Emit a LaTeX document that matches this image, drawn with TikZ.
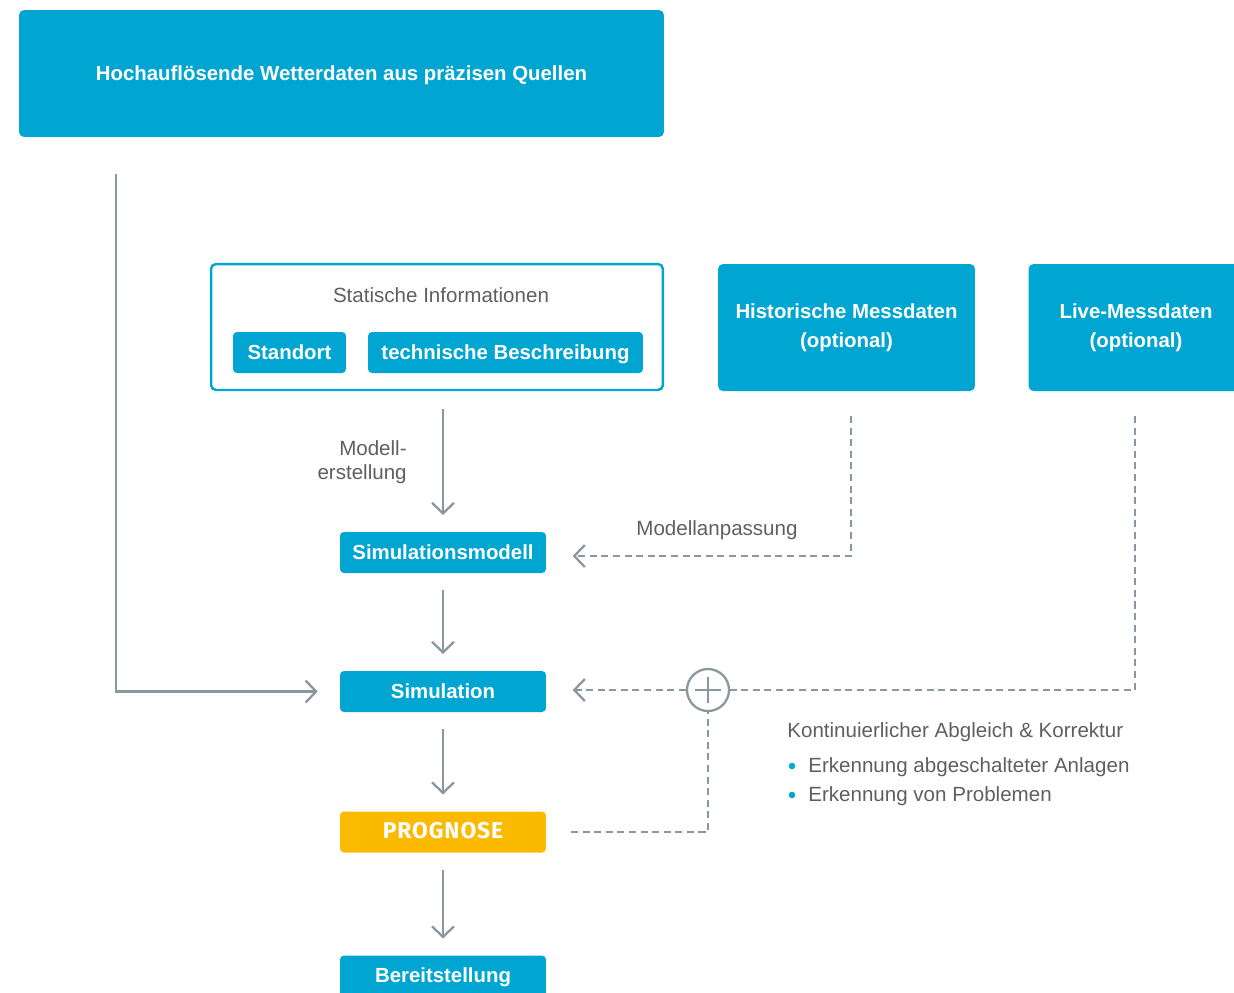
\documentclass[tikz,border=0pt]{standalone}
\usepackage{fontspec}
\setmainfont{Liberation Sans}
\newfontfamily\prognosefont[LetterSpace=4]{Fira Sans}
\usetikzlibrary{arrows.meta}
\definecolor{boxblue}{RGB}{0,166,209}
\definecolor{prognoseyellow}{RGB}{251,185,0}
\definecolor{linegray}{RGB}{138,151,159}
\definecolor{textgray}{RGB}{95,95,95}

\begin{document}
\begin{tikzpicture}[x=0.02cm, y=-0.02cm,
    box/.style={fill=boxblue, text=white, rounded corners=0.1cm, inner sep=0pt, align=center,
      font=\fontsize{11.6}{16.4}\selectfont\bfseries},
    tag/.style={box, minimum height=0.82cm, rounded corners=0.08cm, text height=0.78em, text depth=0pt},
    lbl/.style={text=textgray, inner sep=0pt, font=\fontsize{11.7}{13.6}\selectfont},
    flow/.style={draw=linegray, line width=1.3pt, -{Straight Barb[length=6pt,width=12.5pt]}},
    feed/.style={flow, dash pattern=on 4pt off 2.6pt}]
    \useasboundingbox (0,0) rectangle (1234,992);
    \clip (0,0) rectangle (1234,992);

    % sources
    \node[box, minimum width=12.9cm, minimum height=2.54cm, text height=0.78em, text depth=0pt] (wetter) at (341.5,73.5)
      {Hochauflösende Wetterdaten aus präzisen Quellen};
    \node[draw=boxblue, line width=1.4pt, rounded corners=0.1cm, minimum width=9.04cm, minimum height=2.52cm] (statisch) at (437,327) {};
    \node[lbl] (stitle) at (441,295) {Statische Informationen};
    \node[tag, minimum width=2.26cm] (standort) at (289.5,352.5) {Standort};
    \node[tag, minimum width=5.5cm] (technik) at (505.5,352.5) {technische Beschreibung};
    \node[box, minimum width=5.14cm, minimum height=2.54cm] (hist) at (846.5,327.5) {Historische Messdaten\\(optional)};
    \node[box, minimum width=4.3cm, minimum height=2.54cm] (live) at (1136,327.5) {Live-Messdaten\\(optional)};

    % chain
    \node[tag, minimum width=4.12cm] (simmod) at (443,552.5) {Simulationsmodell};
    \node[tag, minimum width=4.12cm] (sim) at (443,691.5) {Simulation};
    \node[tag, minimum width=4.12cm, fill=prognoseyellow, font=\fontsize{13}{15}\prognosefont\bfseries] (prog) at (443,832) {PROGNOSE};
    \node[tag, minimum width=4.12cm] (bereit) at (443,976) {Bereitstellung};

    \draw[flow, shorten <=10pt, shorten >=9.5pt] (statisch.south -| simmod) -- (simmod);
    \draw[flow, shorten <=9.5pt, shorten >=9.5pt] (simmod) -- (sim);
    \draw[flow, shorten <=9.5pt, shorten >=9.5pt] (sim) -- (prog);
    \draw[flow, shorten <=9.5pt, shorten >=9.5pt] (prog) -- (bereit);
    \draw[flow, shorten <=21pt, shorten >=12.5pt] ([xshift=1.94cm]wetter.south west) |- (sim);
    \node[lbl, align=right, anchor=east] (erstellung) at (407,462) {Modell-\\erstellung};

    % feedback
    \node[circle, draw=linegray, line width=1.3pt, minimum size=0.84cm, inner sep=0pt] (plus) at (708,690) {};
    \draw[linegray, line width=1.3pt] (plus.center) +(-13,0) -- +(13,0) +(0,-13) -- +(0,13);
    \draw[feed, shorten <=14pt, shorten >=15pt] ([xshift=0.09cm]hist.south) |- (simmod.east |- 0,556);
    \node[lbl] (anpassung) at (717,530) {Modellanpassung};
    \draw[feed, -, shorten <=14pt] ([xshift=-0.02cm]live.south) |- (plus);
    \draw[feed, shorten >=15pt] (plus) -- (sim.east |- plus);
    \draw[feed, -, shorten <=14pt] (prog) -| (plus);

    \node[lbl, anchor=west] (abgleich) at (787,732) {Kontinuierlicher Abgleich \& Korrektur};
    \node[lbl, anchor=west] (anlagen) at (808,767) {Erkennung abgeschalteter Anlagen};
    \node[lbl, anchor=west] (probleme) at (808,796) {Erkennung von Problemen};
    \fill[boxblue] (792,766) circle (3.3) (792,795) circle (3.3);
\end{tikzpicture}
\end{document}
